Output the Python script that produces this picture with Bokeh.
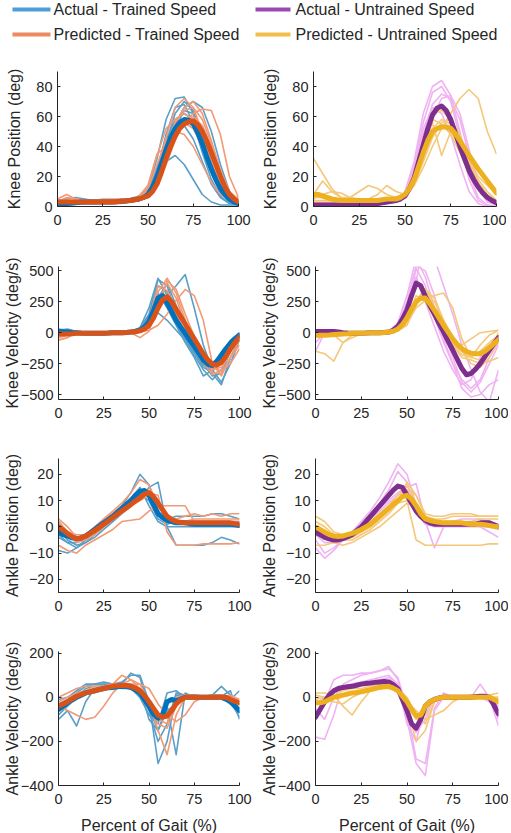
from bokeh.plotting import figure
from bokeh.layouts import column, row
from bokeh.models import Range1d, FixedTicker
from bokeh.embed import file_html
from bokeh.resources import INLINE
from bokeh.core.properties import value

# ---------------- data ----------------
PCT = [0, 5, 10, 15, 20, 25, 30, 35, 40, 45, 50, 55, 60, 65, 70, 75, 80, 85, 90, 95, 100]
PCT_FINE = [0, 2.5, 5, 7.5, 10, 12.5, 15, 17.5, 20, 22.5, 25, 27.5, 30, 32.5, 35, 37.5, 40, 42.5,
            45, 47.5, 50, 52.5, 55, 57.5, 60, 62.5, 65, 67.5, 70, 72.5, 75, 77.5, 80, 82.5, 85,
            87.5, 90, 92.5, 95, 97.5, 100]
XTICKS = [0, 25, 50, 75, 100]
KP_TICKS = [0, 20, 40, 60, 80]
KV_TICKS = [-500, -250, 0, 250, 500]
AP_TICKS = [-20, -10, 0, 10, 20]
AV_TICKS = [-400, -200, 0, 200]

LEGEND_LABELS = ["Actual - Trained Speed", "Predicted - Trained Speed",
                 "Actual - Untrained Speed", "Predicted - Untrained Speed"]
Y_LABELS = ["Knee Position (deg)", "Knee Velocity (deg/s)",
            "Ankle Position (deg)", "Ankle Velocity (deg/s)"]
X_LABEL = "Percent of Gait (%)"

# Knee position - trained speed (means on PCT_FINE, trials on PCT)
KP_TR_ACT_MEAN = [2, 2, 2, 2.2, 2.5, 2.8, 3, 3, 3, 3, 3, 3, 3, 3.2, 3.5, 3.7, 4, 4.5, 5, 6,
                  8, 13, 20, 29, 38, 46, 52, 56, 58, 57.5, 55, 49, 42, 33, 25, 18, 12, 8, 5, 3, 2]
KP_TR_PRED_MEAN = [3, 3, 3, 3, 3, 3, 3, 3, 3, 3, 3, 3, 3, 3.2, 3.5, 3.7, 4, 4.5, 5, 6,
                   7, 10, 15, 23, 32, 40, 47, 52, 55, 56.5, 57, 54.5, 50, 43.5, 36, 28, 20, 13, 8, 5, 3]
KP_TR_ACT = [
    [3, 3, 3, 3, 3, 3, 3, 4, 4, 6, 12, 32, 58, 72, 73, 62, 42, 22, 9, 3, 1],
    [2, 2, 2, 3, 3, 3, 3, 3, 4, 5, 8, 18, 36, 55, 66, 70, 66, 50, 28, 10, 3],
    [2, 3, 3, 3, 3, 3, 3, 3, 3, 5, 9, 20, 30, 34, 28, 18, 8, 3, 1, 1, 1],
    [4, 5, 6, 5, 4, 4, 4, 4, 5, 6, 10, 24, 44, 58, 62, 58, 44, 26, 12, 5, 2],
    [3, 3, 3, 3, 3, 4, 4, 4, 5, 7, 11, 26, 45, 54, 54, 45, 30, 15, 6, 2, 1],
    [1, 1, 2, 2, 2, 2, 2, 2, 3, 4, 6, 14, 32, 52, 64, 62, 48, 28, 12, 4, 1],
    [2, 2, 2, 2, 2, 3, 3, 3, 3, 4, 7, 20, 42, 62, 70, 64, 46, 26, 10, 3, 1],
    [3, 3, 3, 3, 3, 3, 3, 3, 4, 5, 9, 24, 48, 66, 68, 56, 36, 18, 7, 2, 1],
]
KP_TR_PRED = [
    [3, 6, 5, 4, 4, 4, 4, 4, 5, 6, 10, 22, 46, 66, 72, 66, 50, 30, 14, 6, 3],
    [4, 4, 4, 4, 4, 5, 5, 5, 5, 6, 8, 14, 28, 44, 56, 62, 65, 64, 48, 20, 6],
    [2, 3, 4, 3, 3, 3, 3, 3, 4, 6, 14, 35, 40, 50, 56, 52, 40, 24, 12, 6, 4],
    [5, 8, 5, 4, 4, 4, 4, 5, 5, 6, 8, 16, 34, 54, 66, 70, 62, 44, 24, 10, 4],
    [3, 3, 3, 3, 3, 3, 3, 3, 4, 6, 12, 28, 44, 50, 48, 40, 28, 16, 8, 5, 6],
    [3, 4, 4, 4, 4, 4, 4, 4, 5, 6, 9, 18, 36, 52, 58, 60, 54, 40, 22, 10, 5],
    [4, 4, 4, 4, 4, 4, 4, 4, 5, 7, 14, 34, 52, 58, 62, 58, 44, 28, 14, 6, 4],
    [3, 3, 3, 3, 3, 3, 3, 4, 4, 5, 9, 22, 40, 56, 64, 66, 58, 42, 24, 10, 4],
]
# Knee position - untrained speed
KP_UN_ACT_MEAN = [1, 1, 1, 1, 1, 1, 1, 1.5, 2, 2, 2, 2, 2, 2, 2, 2.5, 3, 3.5, 4, 5,
                  7, 12, 19, 30, 41, 52, 61, 65.5, 67, 64, 58, 49, 40, 32, 24, 18, 13, 9, 6, 4, 2.5]
KP_UN_PRED_MEAN = [8, 8, 7, 6, 5, 4.5, 4, 4, 4, 4, 4, 4, 4, 4, 4, 4.5, 5, 5, 5, 6,
                   8, 12, 18, 27, 36, 44, 50, 52, 53, 53, 52, 48.5, 44, 39, 34, 29.5, 25, 21, 17, 13, 9]
KP_UN_ACT = [
    [0, 1, 1, 1, 1, 1, 1, 2, 2, 4, 10, 30, 62, 80, 84, 74, 50, 22, 6, 1, 0],
    [1, 1, 1, 1, 1, 1, 2, 2, 2, 4, 8, 26, 56, 76, 80, 70, 46, 18, 4, 1, 0],
    [2, 2, 2, 2, 2, 3, 3, 3, 3, 5, 8, 22, 48, 68, 75, 72, 58, 34, 12, 3, 1],
    [1, 1, 1, 1, 1, 1, 1, 1, 2, 4, 9, 26, 52, 66, 62, 48, 28, 10, 2, 0, 0],
    [0, 0, 0, 1, 1, 1, 1, 1, 2, 3, 6, 16, 38, 60, 72, 74, 62, 38, 16, 4, 1],
]
KP_UN_PRED = [
    [32, 22, 12, 6, 4, 4, 3, 3, 4, 5, 8, 18, 36, 52, 58, 55, 42, 28, 16, 8, 4],
    [5, 8, 10, 9, 6, 5, 5, 5, 5, 6, 8, 14, 26, 40, 52, 62, 72, 78, 72, 50, 35],
    [8, 17, 10, 6, 6, 10, 14, 12, 8, 6, 9, 22, 44, 58, 55, 48, 36, 22, 12, 6, 3],
    [4, 4, 4, 4, 4, 5, 5, 5, 5, 5, 8, 20, 40, 56, 34, 50, 40, 26, 18, 10, 4],
    [3, 3, 3, 3, 3, 3, 3, 3, 4, 5, 8, 22, 46, 62, 64, 58, 44, 30, 20, 14, 8],
    [6, 6, 5, 5, 4, 4, 5, 8, 14, 10, 8, 14, 30, 46, 56, 58, 48, 30, 14, 6, 2],
]

# Knee velocity - trained speed
KV_TR_ACT_MEAN = [10, 8, 5, 2, 0, -3, -5, -5, -5, -5, -5, -3, 0, 0, 0, 2, 5, 10, 20, 45,
                  90, 180, 280, 300, 240, 170, 100, 45, -5, -60, -110, -165, -220, -255, -265,
                  -230, -180, -130, -86, -50, -20]
KV_TR_PRED_MEAN = [-10, -10, -10, -8, -5, -5, -5, -5, -5, -5, -5, -3, 0, 0, 0, 2, 5, 8, 15, 30,
                   60, 120, 200, 265, 290, 250, 190, 130, 70, 10, -50, -110, -170, -220, -255,
                   -262, -240, -190, -130, -80, -35]
KV_TR_ACT = [
    [20, 30, 10, -10, -10, -10, -5, 0, 10, 40, 150, 430, 380, 150, 0, -120, -250, -350, -330, -150, -20],
    [0, 10, 0, 0, -10, -10, -5, 0, 5, 20, 60, 200, 300, 380, 470, 200, -100, -300, -400, -250, -60],
    [30, 20, 10, 0, -5, -10, 0, 0, 10, 30, 120, 160, 100, 20, -60, -150, -280, -320, -200, -80, -10],
    [10, 10, 0, -10, -10, -5, 0, 5, 10, 30, 100, 380, 330, 120, -40, -160, -260, -300, -250, -120, -30],
    [-10, 0, 5, 0, -5, -5, 0, 0, 5, 20, 80, 280, 400, 220, 40, -100, -220, -330, -420, -200, -50],
    [20, 10, 0, -5, -5, 0, 0, 0, 10, 30, 140, 320, 200, 60, -80, -200, -350, -300, -160, -60, 0],
    [0, 5, 0, -5, -10, -5, 0, 0, 10, 40, 200, 440, 300, 80, -60, -180, -300, -380, -300, -120, -20],
]
KV_TR_PRED = [
    [-60, -40, 0, -10, -10, -5, 0, 0, 5, 10, 40, 200, 420, 350, 150, -30, -180, -320, -330, -200, -60],
    [-20, -10, -5, -5, -5, 0, 0, 5, 5, 10, 20, 60, 150, 260, 350, 300, 100, -250, -350, -200, -100],
    [-40, -20, 0, -10, -10, -5, 0, 0, 0, -40, 10, 250, 400, 280, 60, -80, -200, -300, -280, -160, -20],
    [0, 0, 0, -5, -5, 0, 0, 0, 5, 20, 80, 300, 300, 150, 0, -100, -220, -280, -310, -250, -130],
    [-10, 0, -5, -5, -5, -5, 0, 5, 10, 20, 80, 330, 440, 320, 100, -50, -180, -270, -200, -80, -10],
    [-20, -10, 0, -5, -5, 0, 0, 0, 5, 20, 100, 380, 340, 200, 40, -100, -240, -340, -300, -150, -40],
]
# Knee velocity - untrained speed
KV_UN_ACT_MEAN = [10, 10, 10, 10, 10, 5, 0, -3, -5, -5, -5, -3, 0, 0, 0, 2, 5, 20, 50, 110,
                  185, 300, 400, 380, 294, 220, 150, 75, 4, -70, -140, -215, -290, -340, -330,
                  -295, -250, -195, -140, -90, -40]
KV_UN_PRED_MEAN = [-20, -20, -20, -18, -15, -12, -10, -8, -5, -5, -5, -3, 0, 0, 0, 2, 5, 12, 30, 65,
                   120, 190, 250, 278, 280, 235, 180, 120, 60, 5, -50, -95, -130, -152, -165,
                   -170, -170, -150, -120, -88, -55]
KV_UN_ACT = [
    [0, 20, 10, 0, -5, -5, 0, 0, 10, 80, 300, 600, 450, 200, -50, -250, -450, -520, -500, -420, -380],
    [-10, 10, 0, 0, -5, 0, 0, 0, 10, 60, 250, 540, 500, 300, 0, -200, -400, -480, -400, -250, -100],
    [-80, 0, 10, 0, -5, 0, 0, 5, 10, 40, 150, 400, 900, 600, 380, 150, -100, -300, -480, -560, -300],
    [20, 20, 10, 0, -5, 0, 0, 0, 5, 40, 200, 450, 250, 50, -150, -300, -420, -380, -200, -100, -50],
    [-150, 0, 10, 0, 0, 0, 0, 0, 5, 30, 150, 520, 380, 120, -80, -250, -380, -450, -380, -200, -80],
]
KV_UN_PRED = [
    [-150, -170, -230, -80, -20, -10, 0, 0, 5, 20, 100, 250, 330, 250, 100, -50, -150, -200, -150, -80, -20],
    [-30, -20, -30, -20, -10, 0, 0, 5, 10, 20, 80, 200, 260, 300, 320, 200, -50, -200, -220, -150, 0],
    [0, -10, -20, -80, -40, -10, 0, 0, 5, 15, 80, 260, 360, 200, 50, -80, -180, -200, -100, -20, 20],
    [-20, -20, -10, -10, 0, 0, 0, 0, 5, 20, 100, 300, 250, 120, 0, -100, -200, -220, -250, -230, -200],
    [-30, -30, -20, -10, -5, 0, 0, 5, 10, 20, 80, 250, 300, 150, 20, -60, -100, -50, 0, 10, 20],
    [0, 10, 0, -5, -5, 0, 0, 0, 5, 15, 60, 220, 350, 280, 100, -30, -150, -250, -280, -200, -60],
]

# Ankle position - trained speed
AP_TR_ACT_MEAN = [-2, -3, -3.5, -4.2, -4.5, -4.2, -3.5, -2.3, -1, 0.3, 1.5, 2.8, 4, 5.5, 7, 8.5,
                  10, 12, 13.5, 13.8, 12, 8.5, 5, 3.5, 2.5, 2, 1.5, 1.5, 1.5, 1.2, 1, 1, 1, 1, 1,
                  1, 1, 1, 1, 0.8, 0.5]
AP_TR_PRED_MEAN = [0, -1.2, -2.5, -3.8, -4.5, -4.3, -3.5, -2.5, -1.5, -0.3, 1, 2.2, 3.5, 4.8, 6,
                   7.2, 8.5, 9.8, 11, 12.5, 13, 11.5, 9, 6.5, 4, 2.8, 2, 1.7, 1.5, 1.5, 1.5, 1.5,
                   1.5, 1.5, 1.5, 1.5, 1.5, 1.5, 1.5, 1.2, 1]
AP_TR_ACT = [
    [-3, -6, -8, -5, -2, 1, 4, 8, 13, 20, 16, 6, 2, 1, 1, 1, 1, 1, 1, 1, 0],
    [-9, -10, -8, -6, -4, -1, 2, 5, 8, 11, 15, 17, 0, -7, -7, -7, -7, -6, -4, -5, -6.5],
    [-1, -5, -7, -6, -3, 0, 3, 6, 9, 12, 10, 3, 1, 2, 2, 2, 2, 2, 2, 2, 2],
    [2, -2, -5, -4, -1, 2, 5, 8, 11, 15, 8, 2, 0, 0, 0, 0, 0, 0, 0, 0, 0],
    [-4, -6, -6, -4, -2, 1, 4, 7, 9, 11, 13, 5, 3, 4, 4, 4, 4, 5, 5, 4, 3],
]
AP_TR_PRED = [
    [3, 0, -4, -3, 0, 3, 6, 9, 13, 18, 16, 8, 3, 2, 2, 2, 2, 2, 2, 2, 2],
    [-7, -9, -10, -7, -5, -3, -1, 2, 2.5, 3, 6, 8, 8, 8, 8, 2, 1, 1, 1, 1, 1],
    [0, -3, -5, -3, -1, 2, 5, 8, 11, 14, 13, 12, -2, -7, -7, -7, -6.5, -6.5, -6.5, -6.5, -6],
    [1, -2, -6, -5, -3, 0, 3, 6, 9, 11, 14, 10, 4, 3, 4, 5, 4, 5, 4, 5, 5],
    [2, -2, -3, -3, -1, 1, 3, 5, 8, 10, 12, 9, 4, 2, 2, 3, 3, 3, 3, 3, 3],
]
# Ankle position - untrained speed
AP_UN_ACT_MEAN = [-2, -3, -4, -4.6, -5, -5, -4.5, -3.8, -3, -1.5, 0, 2, 4, 6, 8, 10, 12, 14, 15.5,
                  15, 12, 9, 6, 4, 2.5, 1.5, 1, 1, 1, 1, 1, 1, 1, 1, 1, 1, 1.5, 1.5, 1.5, 0.8, 0]
AP_UN_PRED_MEAN = [0, -1, -2, -3, -3.5, -3.7, -3.5, -3, -2.5, -1.8, -1, 0, 1, 2.5, 4, 5.5, 7, 8.5,
                   10, 11.5, 12, 10.5, 8, 5, 3, 2.4, 2, 1.7, 1.5, 1.5, 1.5, 1.5, 1.5, 1.2, 1, 1, 1,
                   0.8, 0.5, 0.2, 0]
AP_UN_ACT = [
    [-5, -10, -8, -5, -2, 2, 6, 11, 17, 24, 20, 8, 2, 1, 1, 1, 1, 1, 1, 1, 0],
    [-8, -12, -9, -5, -2, 1, 5, 9, 14, 21, 17, 6, 1, 0, 0, 0, 0, 0, 0, 0, -1],
    [-3, -6, -6, -4, -2, 1, 4, 7, 10, 13, 15, 16.5, 2, -8, 0, 1, 1, 1, 0, -2, -4],
    [-1, -4, -6, -5, -3, 0, 3, 6, 9, 12, 14, 8, 3, 2, 2, 2, 3, 3, 3, 2, 1],
]
AP_UN_PRED = [
    [4, 2, -2, -3, -2, -1, 2, 5, 8, 12, 16, 9, 4, 3, 3, 4, 4, 4, 4, 4, 4],
    [-7, -7, -6, -5, -4, -2, 0, 3, 6, 9, 10, -5, -7, -7, -7, -7, -7, -7, -7, -6.5, -6.5],
    [2, 0, -3, -5, -4, -2, 0, 3, 7, 10, 17, 12, 5, 4, 4, 5, 5, 5, 4, 4, 4],
    [0, -2, -4, -5, -5, -3, -1, 2, 5, 9, 14, 12, 4, 2, 2, 2, 2, 2, 3, 3, 3],
    [-2, -4, -6, -7, -6, -4, -2, 0, 3, 6, 9, 8, 3, 1, 1, 1, 1, 1, 1, 1, 1],
]

# Ankle velocity - trained speed
AV_TR_ACT_MEAN = [-55, -40, -25, -12, 0, 10, 20, 25, 30, 35, 40, 43, 45, 48, 50, 49, 45, 35, 20, -10,
                  -40, -75, -95, -80, -20, -10, -15, -8, 0, 0, 0, 0, 0, 0, 0, 0, 0, -8, -20, -40, -60]
AV_TR_PRED_MEAN = [-40, -30, -20, -7, 5, 13, 20, 25, 30, 35, 40, 45, 50, 53, 55, 54, 50, 42, 30, 8,
                   -20, -50, -80, -90, -85, -60, -30, -12, 0, 0, 0, 0, 0, 0, 0, 0, 0, 0, -10, -18, -25]
AV_TR_ACT = [
    [-100, -60, -130, -20, 40, 60, 60, 70, 100, 100, -20, -300, -200, 10, 10, 0, 0, 0, 5, 30, -100],
    [-80, -40, 0, 40, 50, 50, 60, 60, 110, 90, -50, -150, -40, -260, 20, 0, 0, 0, 0, -20, -90],
    [-30, -10, 20, 50, 60, 70, 60, 50, 40, 30, -60, -200, -120, 20, 10, 10, 5, 10, 50, 10, -70],
    [-60, -30, 10, 30, 40, 50, 50, 60, 60, 40, -100, -150, -60, -30, 0, 0, 0, 0, 0, -10, 30],
    [-10, 0, 30, 60, 60, 60, 50, 40, 40, 0, -80, -120, 20, 30, 0, 0, 0, 0, 10, -30, -50],
]
AV_TR_PRED = [
    [-40, -60, -80, -100, -90, -40, 20, 60, 80, 60, -20, -150, -260, -80, 0, 0, 0, 10, 10, 0, -20],
    [0, 20, 40, 50, 50, 50, 60, 60, 60, 60, 40, -30, -80, -110, -80, -20, 0, 0, 0, 0, -10],
    [-50, -30, 0, 30, 50, 50, 60, 100, 80, 40, -40, -120, -140, -40, 0, 10, 5, 10, 10, 0, -30],
    [-20, 0, 20, 30, 40, 50, 60, 60, 50, 20, -40, -100, -120, 0, 10, 10, 0, 0, 0, 10, -10],
]
# Ankle velocity - untrained speed
AV_UN_ACT_MEAN = [-90, -55, -20, 10, 30, 40, 45, 48, 50, 55, 60, 63, 65, 68, 70, 72, 70, 58, 40, -10,
                  -60, -120, -140, -100, -40, -20, -10, -3, 0, 0, 0, 0, 0, 0, 0, 3, 5, 5, 0, -35, -75]
AV_UN_PRED_MEAN = [-25, -25, -20, -10, 0, 5, 10, 15, 20, 22, 25, 30, 35, 40, 45, 48, 50, 42, 30, 5,
                   -20, -55, -85, -80, -40, -20, -10, -3, 0, 0, 0, 0, 0, 0, 0, 0, 0, 0, 0, -10, -20]
AV_UN_ACT = [
    [-180, -190, -80, 60, 80, 100, 110, 120, 140, 80, -100, -300, -355, -60, 0, 0, 0, 0, 10, 0, -40],
    [-100, -20, 80, 100, 100, 110, 110, 120, 130, 90, -50, -280, -300, -50, 20, 0, 0, 5, 10, 0, -130],
    [-50, -100, 0, 50, 60, 70, 80, 90, 100, 60, -120, -200, -30, 0, 0, 0, 0, 0, 60, 0, -100],
    [-30, 0, 20, 40, 50, 60, 60, 80, 90, 50, -80, -160, -100, 0, 10, 0, 0, 0, 0, -20, -60],
]
AV_UN_PRED = [
    [20, 20, 10, -40, -80, -20, 30, 40, 40, 30, -40, -200, -150, -20, 0, 0, 0, 0, 0, 0, 0],
    [-10, 0, 20, 30, 40, 40, 50, 60, 60, 40, -20, -60, -100, -80, -60, -20, 0, 0, 0, 10, 20],
    [10, 0, -20, -30, 0, 20, 30, 40, 50, 40, 0, -80, -120, -20, 0, 0, 0, 0, 0, 0, 0],
    [-30, -20, 0, 10, 20, 30, 40, 50, 50, 40, -20, -100, -80, 0, 0, -10, 0, 10, 5, 10, -10],
]

# ---------------- styles ----------------
FONT = "Liberation Sans"
AXC = "#262626"
MEAN_COL = {"tr": ("#0072BD", "#D95319"), "un": ("#7E2F8E", "#EDB120")}
THIN_COL = {"tr": ("#5A9FC8", "#F09A78"), "un": ("#F0B2F2", "#F5C77A")}
LEG_COL = ["#4C9ED9", "#EE8A5F", "#9A4AAE", "#F3BE4A"]

ROWS = [  # (border top, frame height, border bottom, y range, ticks, label standoff)
    (19, 135, 40, (0, 90), KP_TICKS, 10),
    (20, 133, 39, (-540, 535), KV_TICKS, -3),
    (20, 134, 39, (-25, 26), AP_TICKS, 5),
    (20, 134, 40, (-400, 208), AV_TICKS, -3),
]
DATA = [
    [(KP_TR_ACT, KP_TR_PRED, KP_TR_ACT_MEAN, KP_TR_PRED_MEAN), (KP_UN_ACT, KP_UN_PRED, KP_UN_ACT_MEAN, KP_UN_PRED_MEAN)],
    [(KV_TR_ACT, KV_TR_PRED, KV_TR_ACT_MEAN, KV_TR_PRED_MEAN), (KV_UN_ACT, KV_UN_PRED, KV_UN_ACT_MEAN, KV_UN_PRED_MEAN)],
    [(AP_TR_ACT, AP_TR_PRED, AP_TR_ACT_MEAN, AP_TR_PRED_MEAN), (AP_UN_ACT, AP_UN_PRED, AP_UN_ACT_MEAN, AP_UN_PRED_MEAN)],
    [(AV_TR_ACT, AV_TR_PRED, AV_TR_ACT_MEAN, AV_TR_PRED_MEAN), (AV_UN_ACT, AV_UN_PRED, AV_UN_ACT_MEAN, AV_UN_PRED_MEAN)],
]


def style_axis(ax):
    ax.axis_line_color = AXC
    ax.axis_line_width = 1
    ax.major_tick_line_color = AXC
    ax.major_tick_in = 3
    ax.major_tick_out = 0
    ax.minor_tick_line_color = None
    ax.major_label_text_font = FONT
    ax.major_label_text_font_size = "14.5px"
    ax.major_label_text_color = AXC
    ax.axis_label_text_font = FONT
    ax.axis_label_text_font_size = "16px"
    ax.axis_label_text_font_style = "normal"
    ax.axis_label_text_color = AXC


def make_panel(r, c):
    top, fh, bottom, yr, yticks, lstand = ROWS[r]
    act, pred, act_mean, pred_mean = DATA[r][c]
    key = "tr" if c == 0 else "un"
    p = figure(frame_width=181 if c == 0 else 183, frame_height=fh,
               min_border_left=57, min_border_right=18 if c == 0 else 10,
               min_border_top=top, min_border_bottom=bottom,
               x_range=Range1d(0, 100), y_range=Range1d(*yr),
               output_backend="svg", toolbar_location=None, tools="")
    p.outline_line_color = None
    p.grid.visible = False
    p.background_fill_color = "white"
    p.border_fill_color = "white"
    style_axis(p.xaxis[0])
    style_axis(p.yaxis[0])
    p.xaxis.ticker = FixedTicker(ticks=XTICKS)
    p.yaxis.ticker = FixedTicker(ticks=yticks)
    p.xaxis.major_label_standoff = 8
    p.yaxis.major_label_standoff = 5
    p.yaxis.axis_label = Y_LABELS[r]
    p.yaxis.axis_label_standoff = lstand
    if r == 3:
        p.xaxis.axis_label = X_LABEL
        p.xaxis.axis_label_standoff = 10
    ta, tp = THIN_COL[key]
    ma, mp = MEAN_COL[key]
    for tr in act:
        p.line(PCT, tr, line_color=ta, line_width=1.6, line_join="round")
    for tr in pred:
        p.line(PCT, tr, line_color=tp, line_width=1.6, line_join="round")
    p.line(PCT_FINE, act_mean, line_color=ma, line_width=5, line_join="round", line_cap="round")
    p.line(PCT_FINE, pred_mean, line_color=mp, line_width=5, line_join="round", line_cap="round")
    return p


# legend strip
leg = figure(width=506, height=52, x_range=Range1d(0, 506), y_range=Range1d(52, 0),
             output_backend="svg", toolbar_location=None, tools="",
             x_axis_type=None, y_axis_type=None, min_border=0)
leg.outline_line_color = None
leg.grid.visible = False
LEG_X0 = [12, 12, 255, 255]
LEG_X1 = [50, 50, 290, 290]
LEG_Y = [9, 34, 9, 34]
LEG_TX = [53, 53, 295, 295]
leg.segment(x0=LEG_X0, y0=LEG_Y, x1=LEG_X1, y1=LEG_Y, line_color=LEG_COL, line_width=4)
leg.text(x=LEG_TX, y=LEG_Y, text=LEGEND_LABELS, text_baseline="middle", text_align="left",
         text_font=value(FONT), text_font_size="16px", text_color=AXC)

rows = [row(make_panel(r, 0), make_panel(r, 1), spacing=0) for r in range(4)]
layout = column(leg, *rows, spacing=0)

open("out.html", "w").write(file_html(layout, INLINE, title="Gait prediction"))
